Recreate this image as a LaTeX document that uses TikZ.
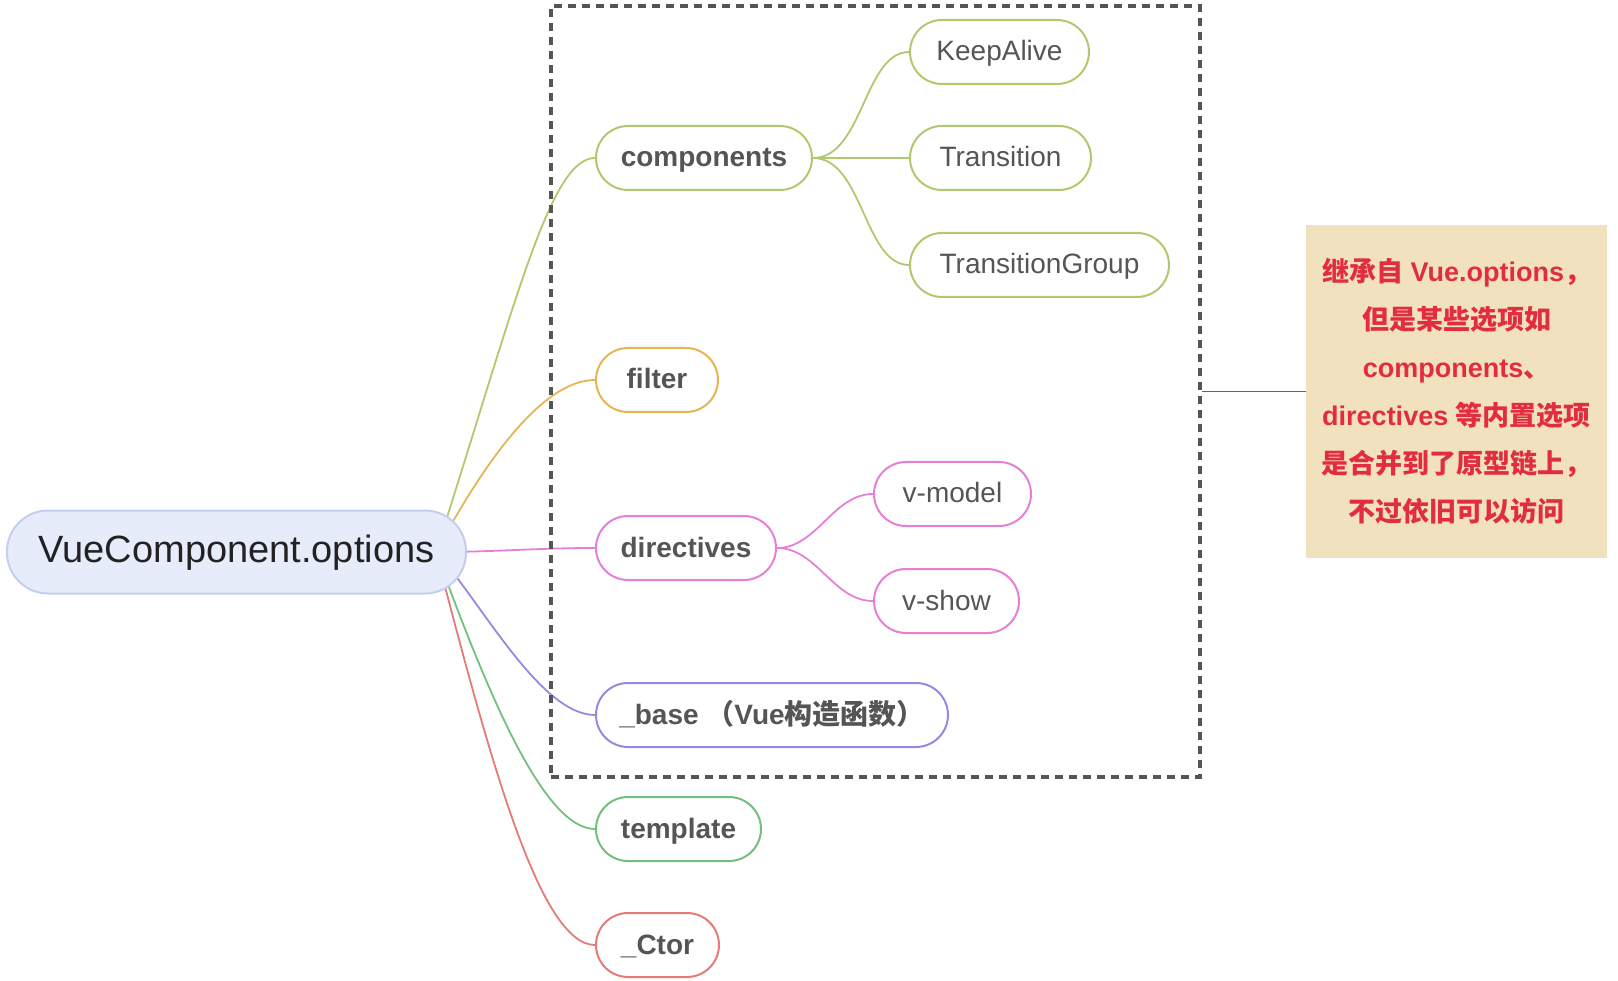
\documentclass[tikz,border=0pt]{standalone}
\usepackage{fontspec}
\setmainfont{Liberation Sans}
\newfontfamily\cjk{Noto Sans CJK SC}
\usetikzlibrary{backgrounds}
\newcommand{\zh}[1]{{\cjk #1}}
\definecolor{rootfill}{RGB}{230,236,250}
\definecolor{rootline}{RGB}{195,207,240}
\definecolor{roottext}{RGB}{34,34,34}
\definecolor{compc}{RGB}{176,201,110}
\definecolor{filterc}{RGB}{229,181,82}
\definecolor{dirc}{RGB}{231,127,214}
\definecolor{basec}{RGB}{157,134,224}
\definecolor{tmplc}{RGB}{113,192,125}
\definecolor{ctorc}{RGB}{228,123,120}
\definecolor{labelgrey}{RGB}{85,85,85}
\definecolor{framegrey}{RGB}{85,85,85}
\definecolor{notelink}{RGB}{100,100,100}
\definecolor{notefill}{RGB}{242,225,190}
\definecolor{notered}{RGB}{226,45,62}

\begin{document}
\begin{tikzpicture}[x=1pt,y=-1pt]
\tikzstyle{topic} = [draw, rounded corners=32pt, minimum height=64pt, inner xsep=4pt, line width=2pt, fill=white, text=labelgrey, text height=22pt, text depth=4pt, anchor=west, font=\fontsize{28pt}{32pt}\selectfont]
\tikzstyle{branch} = [topic, font=\fontsize{28pt}{32pt}\selectfont\bfseries]
\tikzstyle{link} = [line width=1.8pt]
%\tikzstyle{frame} = [draw=framegrey, dashed]
\tikzstyle{frame} = [draw=framegrey, line width=3.8pt, dash pattern=on 8pt off 6pt, minimum width=649pt, minimum height=771pt]

\useasboundingbox (0,0) rectangle (1618,981);

\node[draw=rootline, fill=rootfill, line width=2pt, rounded corners=41pt, minimum width=459pt, minimum height=83pt, text=roottext, text height=28pt, text depth=8pt, font=\fontsize{38pt}{42pt}\selectfont] (root) at (236.5,552) {VueComponent.options};
\coordinate (hub) at (436,552);

\node[branch, draw=compc, minimum width=216pt] (comp) at (595,158) {components};
\node[topic, draw=compc, minimum width=179pt] (keep) at (909,52) {KeepAlive};
\node[topic, draw=compc, minimum width=181pt] (trans) at (909,158) {Transition};
\node[topic, draw=compc, minimum width=259pt] (group) at (909,265) {TransitionGroup};
\node[branch, draw=filterc, minimum width=122pt] (filter) at (595,380) {filter};
\node[branch, draw=dirc, minimum width=180pt] (dir) at (595,548) {directives};
\node[topic, draw=dirc, minimum width=157pt] (vmodel) at (873,494) {v-model};
\node[topic, draw=dirc, minimum width=145pt] (vshow) at (873,601) {v-show};
\node[branch, draw=basec, minimum width=352pt] (base) at (595,715) {\_base \zh{（}Vue\zh{构造函数）}};
\node[branch, draw=tmplc, minimum width=165pt] (templ) at (595,829) {template};
\node[branch, draw=ctorc, minimum width=123pt] (ctor) at (595,945) {\_Ctor};

\node[frame] (frame) at (875.5,391.5) {};
\node[fill=notefill, minimum width=301pt, minimum height=333pt, align=center, text=notered, font=\fontsize{27pt}{48pt}\selectfont\bfseries] (note) at (1456.5,391.5)
  {\zh{继承自} Vue.options\zh{，}\\ \zh{但是某些选项如}\\ components\zh{、}\\ directives \zh{等内置选项}\\ \zh{是合并到了原型链上，}\\ \zh{不过依旧可以访问}};
\draw[line width=1.8pt, notelink] (frame.east) -- (note.west);

\begin{scope}[on background layer]
\draw[link, compc] (hub) .. controls +(80,-250) and +(-45,0) .. (comp.west);
\draw[link, filterc] (hub) .. controls +(44,-82) and +(-55,0) .. (filter.west);
\draw[link, dirc] (hub) .. controls +(60,0) and +(-60,0) .. (dir.west);
\draw[link, basec] (hub) .. controls +(44,48) and +(-55,0) .. (base.west);
\draw[link, tmplc] (hub) .. controls +(54,148) and +(-50,0) .. (templ.west);
\draw[link, ctorc] (hub) .. controls +(54,208) and +(-55,0) .. (ctor.west);
\draw[link, compc] (comp.east) .. controls +(50,0) and +(-45,0) .. (keep.west);
\draw[link, compc] (comp.east) -- (trans.west);
\draw[link, compc] (comp.east) .. controls +(50,0) and +(-45,0) .. (group.west);
\draw[link, dirc] (dir.east) .. controls +(40,0) and +(-40,0) .. (vmodel.west);
\draw[link, dirc] (dir.east) .. controls +(40,0) and +(-40,0) .. (vshow.west);
\end{scope}
\end{tikzpicture}
\end{document}
